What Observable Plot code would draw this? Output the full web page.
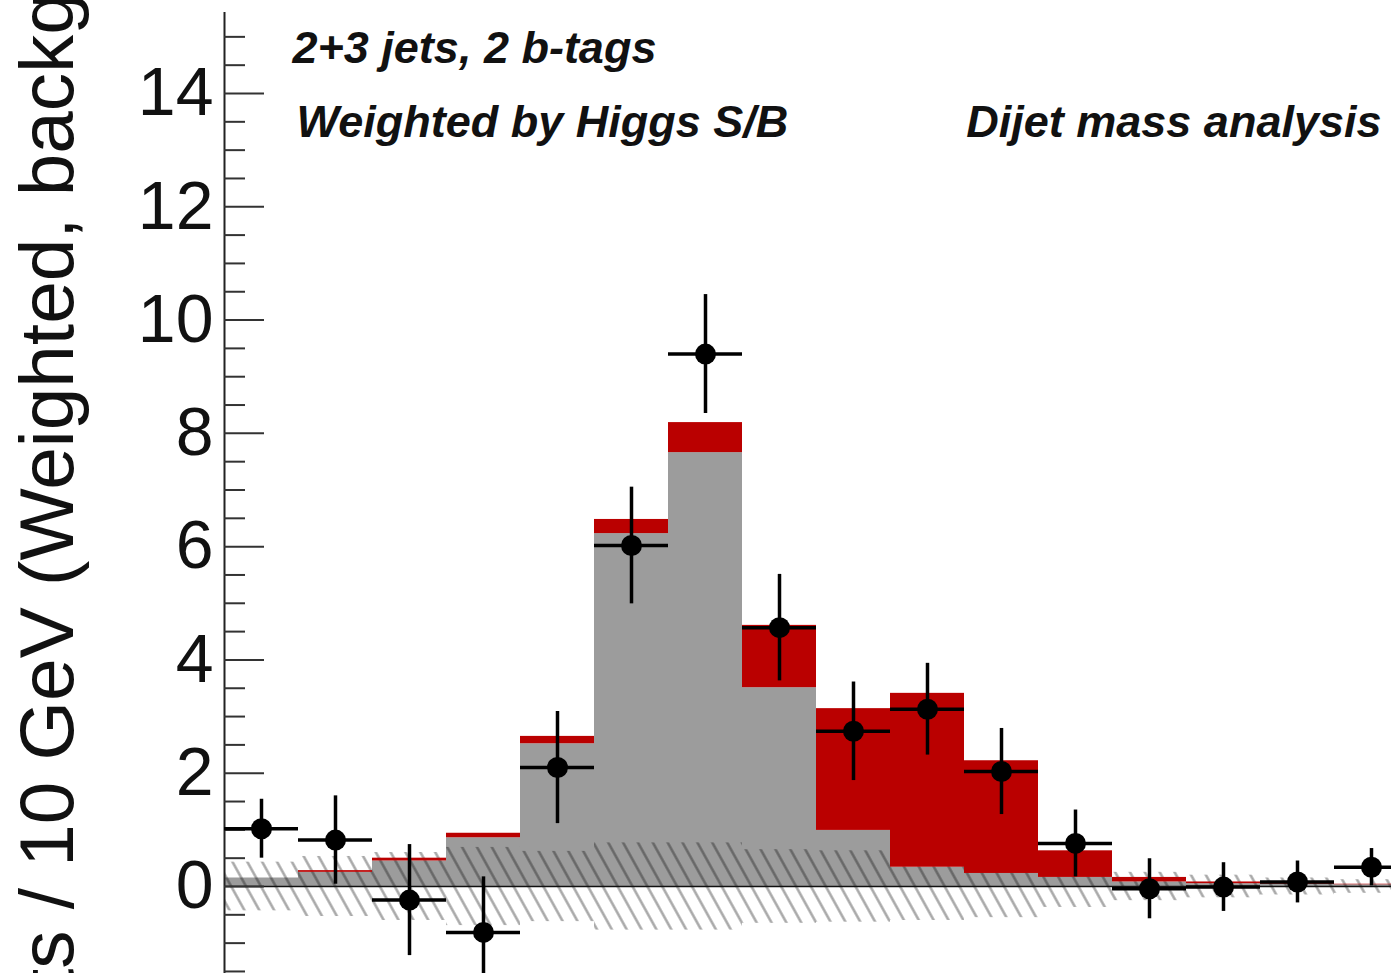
<!DOCTYPE html>
<html><head><meta charset="utf-8">
<script src="https://cdn.jsdelivr.net/npm/d3@7"></script>
<script src="https://cdn.jsdelivr.net/npm/@observablehq/plot@0.6"></script>
<style>
html,body{margin:0;padding:0;background:#fff;overflow:hidden;}
#chart{position:relative;width:1391px;height:973px;overflow:hidden;}
</style></head><body><div id="chart"></div>
<script>
// Dijet mass bins (GeV), 10 GeV wide
const binLow = [20, 30, 40, 50, 60, 70, 80, 90, 100, 110, 120, 130, 140, 150, 160, 170];
const binWidth = 10;
// Diboson (grey) after background subtraction, weighted
const diboson = [0.15, 0.25, 0.45, 0.86, 2.52, 6.23, 7.66, 3.51, 0.99, 0.34, 0.23, 0.16, 0.08, 0.05, 0.04, 0.03];
// Higgs signal (red), stacked on diboson
const higgs = [0.0, 0.03, 0.05, 0.08, 0.13, 0.25, 0.53, 1.10, 2.15, 3.07, 1.99, 0.47, 0.08, 0.03, 0.02, 0.01];
// Background uncertainty band half-width (hatched, around zero)
const bkgUnc = [0.43, 0.53, 0.60, 0.69, 0.62, 0.77, 0.77, 0.65, 0.63, 0.60, 0.55, 0.37, 0.25, 0.20, 0.15, 0.12];
// Data (background subtracted) and errors
const dataVal = [1.02, 0.82, -0.24, -0.81, 2.10, 6.02, 9.40, 4.57, 2.74, 3.13, 2.03, 0.76, -0.04, -0.01, 0.08, 0.34];
const dataErr = [0.52, 0.78, 0.98, 0.98, 0.99, 1.03, 1.05, 0.94, 0.87, 0.81, 0.76, 0.59, 0.53, 0.43, 0.37, 0.33];
// Axis ticks
const majorTicks = [0, 2, 4, 6, 8, 10, 12, 14];
const minorTicks = [-1.5, -1, -0.5, 0.5, 1, 1.5, 2.5, 3, 3.5, 4.5, 5, 5.5, 6.5, 7, 7.5, 8.5, 9, 9.5, 10.5, 11, 11.5, 12.5, 13, 13.5, 14.5, 15];
const yLabel = "Events / 10 GeV (Weighted, background subtracted)";
const label1 = "2+3 jets, 2 b-tags";
const label2 = "Weighted by Higgs S/B";
const label3 = "Dijet mass analysis";

const bins = binLow.map((lo, i) => ({
  lo, hi: lo + binWidth, mid: lo + binWidth / 2,
  diboson: diboson[i], higgs: higgs[i], unc: bkgUnc[i],
  data: dataVal[i], err: dataErr[i]
}));

const FONT = "'Liberation Sans', Arial, Helvetica, sans-serif";

const chart = Plot.plot({
  width: 1391, height: 973,
  marginLeft: 224, marginRight: 0, marginTop: 12, marginBottom: 0,
  style: {background: "#fff", overflow: "hidden", fontFamily: FONT, color: "#111"},
  x: {domain: [20, 20 + 1167 / 7.4], axis: null},
  y: {domain: [-1.536, 15.43]},
  marks: [
    Plot.rect(bins, {x1: "lo", x2: "hi", y1: 0, y2: "diboson", fill: "#9c9c9c"}),
    Plot.rect(bins, {x1: "lo", x2: "hi", y1: d => -d.unc, y2: d => d.unc, fill: "url(#hatch)"}),
    Plot.rect(bins, {x1: "lo", x2: "hi", y1: "diboson", y2: d => d.diboson + d.higgs, fill: "#ba0000"}),
    Plot.ruleY([0], {stroke: "#111", strokeWidth: 1.6}),
    Plot.ruleX([20], {stroke: "#222", strokeWidth: 2}),
    Plot.axisY(minorTicks, {tickSize: -21, fill: "none", label: null, stroke: "#333", strokeWidth: 2}),
    Plot.axisY(majorTicks, {tickSize: -40, fill: "none", label: null, stroke: "#333", strokeWidth: 2}),
    Plot.axisY(majorTicks, {tickSize: 0, tickPadding: 11, fontSize: 68, label: null, fill: "#111", tickFormat: d => String(d)}),
    Plot.ruleY(bins, {x1: "lo", x2: "hi", y: "data", stroke: "#000", strokeWidth: 3.5}),
    Plot.ruleX(bins, {x: "mid", y1: d => d.data - d.err, y2: d => d.data + d.err, stroke: "#000", strokeWidth: 3.5}),
    Plot.dot(bins, {x: "mid", y: "data", r: 10.5, fill: "#000"}),
    Plot.text([label1], {frameAnchor: "top-left", textAnchor: "start", lineAnchor: "bottom", dx: 68, dy: 50, fontSize: 45, fontWeight: "bold", fontStyle: "italic", fill: "#111"}),
    Plot.text([label2], {frameAnchor: "top-left", textAnchor: "start", lineAnchor: "bottom", dx: 72, dy: 124, fontSize: 45, fontWeight: "bold", fontStyle: "italic", fill: "#111"}),
    Plot.text([label3], {frameAnchor: "top-right", textAnchor: "end", lineAnchor: "bottom", dx: -10, dy: 124, fontSize: 45, fontWeight: "bold", fontStyle: "italic", fill: "#111"})
  ]
});

document.getElementById("chart").appendChild(chart);

const svg = d3.select(chart);
const defs = svg.insert("defs", ":first-child");
const pat = defs.append("pattern")
  .attr("id", "hatch")
  .attr("patternUnits", "userSpaceOnUse")
  .attr("width", 13).attr("height", 13)
  .attr("patternTransform", "rotate(-29)");
pat.append("line")
  .attr("x1", 6.5).attr("y1", -2).attr("x2", 6.5).attr("y2", 15)
  .attr("stroke", "#000").attr("stroke-width", 2.4).attr("stroke-opacity", 0.36);

// y-axis title: full text, positioned so that only the part visible in the frame shows
const LABEL_SIZE = 76.5;
const ctx = document.createElement("canvas").getContext("2d");
ctx.font = `${LABEL_SIZE}px 'Liberation Sans', Arial, sans-serif`;
const w = ctx.measureText("Even").width;
svg.append("text")
  .attr("font-family", FONT)
  .attr("font-size", LABEL_SIZE)
  .attr("fill", "#111")
  .attr("text-anchor", "start")
  .attr("transform", `translate(73, ${990 + w}) rotate(-90)`)
  .text(yLabel);
</script>
</body></html>
